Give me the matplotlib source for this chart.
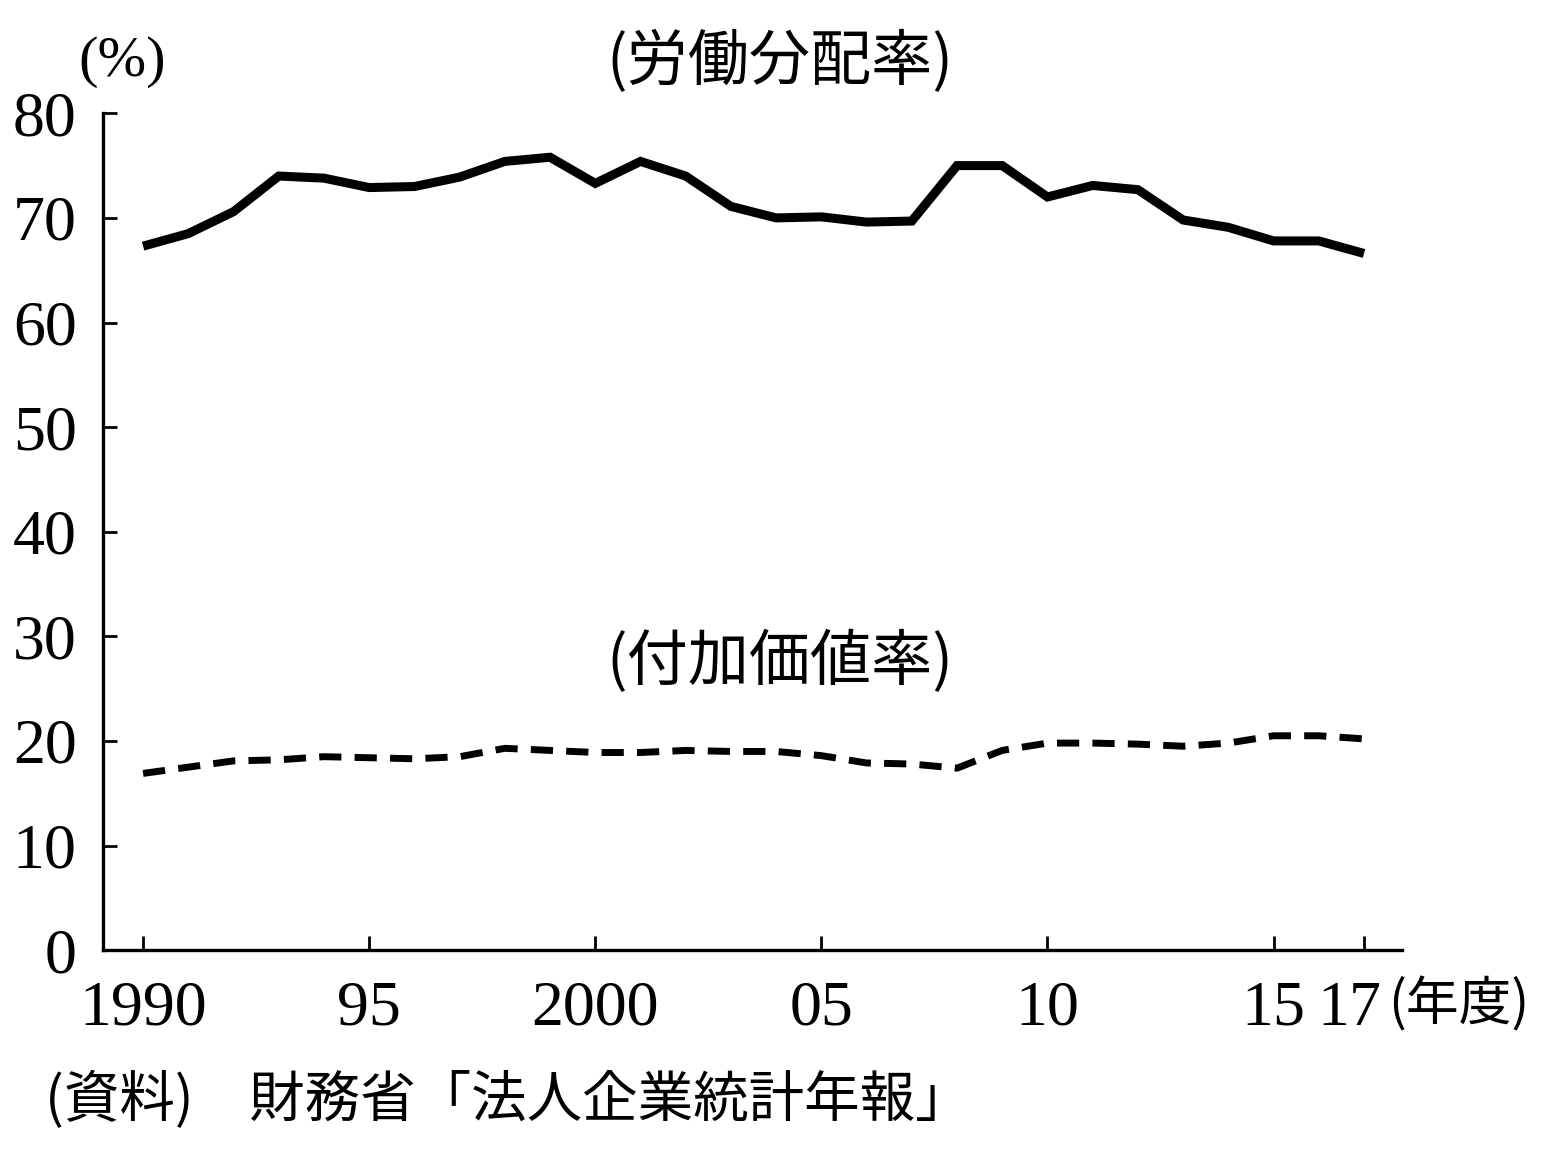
import matplotlib
matplotlib.use("Agg")
import matplotlib.pyplot as plt
import matplotlib.transforms as mtransforms

years = list(range(1990, 2018))
labor_share = [67.3, 68.5, 70.6, 74.0, 73.8, 72.9, 73.0, 73.9, 75.4, 75.8,
               73.3, 75.4, 74.0, 71.1, 70.0, 70.1, 69.6, 69.7, 75.0, 75.0,
               72.0, 73.1, 72.7, 69.8, 69.1, 67.8, 67.8, 66.6]
value_added = [16.9, 17.5, 18.1, 18.2, 18.5, 18.4, 18.3, 18.5, 19.3, 19.1,
               18.9, 18.9, 19.1, 19.0, 19.0, 18.6, 17.9, 17.8, 17.4, 19.1,
               19.8, 19.8, 19.7, 19.5, 19.8, 20.5, 20.5, 20.2]
xticks = [1990, 1995, 2000, 2005, 2010, 2015, 2017]
xtick_labels = ["1990", "95", "2000", "05", "10", "15", "17"]
yticks = [0, 10, 20, 30, 40, 50, 60, 70, 80]

title_labor = "(労働分配率)"
title_va = "(付加価値率)"
unit_y = "(%)"
unit_x = "(年度)"
source = "(資料)\u3000財務省「法人企業統計年報」"

NUM_FONT = ["Liberation Serif", "DejaVu Serif"]
CJK_FONT = ["Noto Sans CJK JP", "DejaVu Sans"]

fig = plt.figure(figsize=(15.5, 11.56), dpi=100)
fig.patch.set_facecolor("white")
ax = fig.add_axes([0.0665, 0.178, 0.838, 0.724])

ax.plot(years, labor_share, color="black", lw=6.5, solid_joinstyle="miter",
        solid_capstyle="butt")
ax.plot(years, value_added, color="black", lw=5.0, linestyle=(0, (3.2, 1.9)),
        dash_capstyle="butt")

ax.set_xlim(1989.115, 2017.84)
ax.set_ylim(0, 80)

for s in ["top", "right"]:
    ax.spines[s].set_visible(False)
for s in ["left", "bottom"]:
    ax.spines[s].set_linewidth(2.4)
    ax.spines[s].set_color("black")

ax.set_xticks(xticks)
ax.set_xticklabels(xtick_labels)
ax.set_yticks(yticks)
ax.set_yticklabels([str(v) for v in yticks])
ax.tick_params(axis="both", direction="in", length=10, width=2.0, color="black")
ax.tick_params(axis="x", pad=22)
ax.tick_params(axis="y", pad=19)
for lab in ax.get_xticklabels() + ax.get_yticklabels():
    lab.set_fontfamily(NUM_FONT)
    lab.set_fontsize(46)

# shift the "17" label a bit left as in the reference
lab17 = ax.get_xticklabels()[-1]
lab17.set_transform(lab17.get_transform() +
                    mtransforms.ScaledTranslation(-15 / 100, 0, fig.dpi_scale_trans))

fig.text(0.503, 0.946, title_labor, ha="center", va="center",
         fontsize=44, family=CJK_FONT)
fig.text(0.503, 0.427, title_va, ha="center", va="center",
         fontsize=44, family=CJK_FONT)
fig.text(0.079, 0.946, unit_y, ha="center", va="center",
         fontsize=42, family=NUM_FONT)
fig.text(0.941, 0.131, unit_x, ha="center", va="center",
         fontsize=38, family=CJK_FONT)
fig.text(0.029, 0.048, source, ha="left", va="center",
         fontsize=40, family=CJK_FONT)

fig.savefig("out.png", dpi=100, facecolor="white")
